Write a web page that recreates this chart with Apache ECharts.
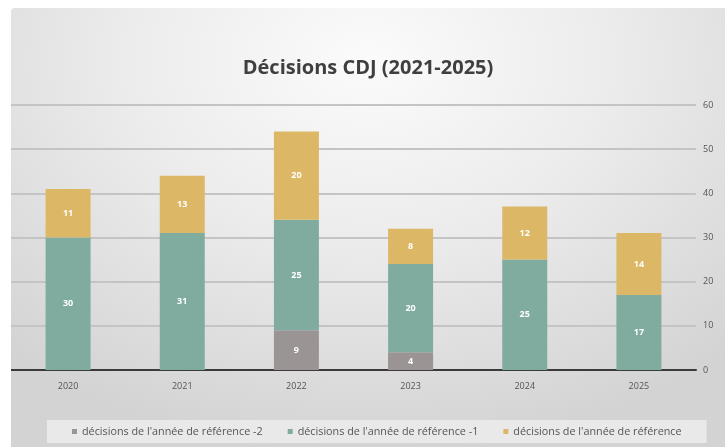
<!DOCTYPE html>
<html>
<head>
<meta charset="utf-8">
<script src="https://cdn.jsdelivr.net/npm/echarts@6/dist/echarts.min.js"></script>
<style>
  html, body { margin: 0; padding: 0; background: #ffffff; }
  #chart {
    position: absolute; left: 11px; top: 8px; width: 714px; height: 439px;
    border-top-left-radius: 4px;
    background: radial-gradient(ellipse 75% 90% at 50% 12%, #fbfbfb 0%, #ececec 45%, #dcdcdc 80%, #d3d3d3 100%);
  }
</style>
</head>
<body>
<div id="chart"></div>
<script>
  // data
  var years = ['2020', '2021', '2022', '2023', '2024', '2025'];
  var refMinus2 = [0, 0, 9, 4, 0, 0];
  var refMinus1 = [30, 31, 25, 20, 25, 17];
  var refYear = [11, 13, 20, 8, 12, 14];
  var seriesNames = [
    "décisions de l'année de référence -2",
    "décisions de l'année de référence -1",
    "décisions de l'année de référence"
  ];
  var colors = ['#9b9494', '#80aca0', '#dcb866'];

  var chart = echarts.init(document.getElementById('chart'));

  function barSeries(name, data, color) {
    return {
      name: name,
      type: 'bar',
      stack: 'total',
      barWidth: 45,
      data: data.map(function (v) { return v === 0 ? null : v; }),
      itemStyle: { color: color },
      label: {
        show: true,
        position: 'inside',
        color: '#ffffff',
        fontSize: 9,
        fontWeight: 'bold',
        fontFamily: 'Open Sans'
      }
    };
  }

  var option = {
    animation: false,
    title: {
      text: 'Décisions CDJ (2021-2025)',
      left: 'center',
      top: 45,
      textStyle: { fontFamily: 'Open Sans', fontSize: 20, fontWeight: 'bold', color: '#3f3f3f' }
    },
    grid: { left: 0, right: 29, top: 97, bottom: 77 },
    legend: {
      bottom: 4,
      left: 36,
      icon: 'rect',
      itemWidth: 5,
      itemHeight: 5,
      itemGap: 25,
      padding: [6, 25],
      backgroundColor: '#e9e9e9',
      textStyle: { fontFamily: 'Open Sans', fontSize: 10.8, color: '#555555' },
      data: seriesNames
    },
    xAxis: {
      type: 'category',
      data: years,
      axisLine: { lineStyle: { color: '#3a3a3a', width: 2 } },
      axisTick: { show: false },
      axisLabel: { margin: 12, fontSize: 9, color: '#555555', fontFamily: 'Open Sans' }
    },
    yAxis: {
      type: 'value',
      position: 'right',
      min: 0,
      max: 60,
      interval: 10,
      axisLine: { show: false },
      axisTick: { show: false },
      axisLabel: { margin: 7, fontSize: 9, color: '#555555', fontFamily: 'Open Sans' },
      splitLine: { lineStyle: { color: '#c4c4c4', width: 2 } }
    },
    series: [
      barSeries(seriesNames[0], refMinus2, colors[0]),
      barSeries(seriesNames[1], refMinus1, colors[1]),
      barSeries(seriesNames[2], refYear, colors[2])
    ]
  };

  option && chart.setOption(option);
</script>
</body>
</html>
